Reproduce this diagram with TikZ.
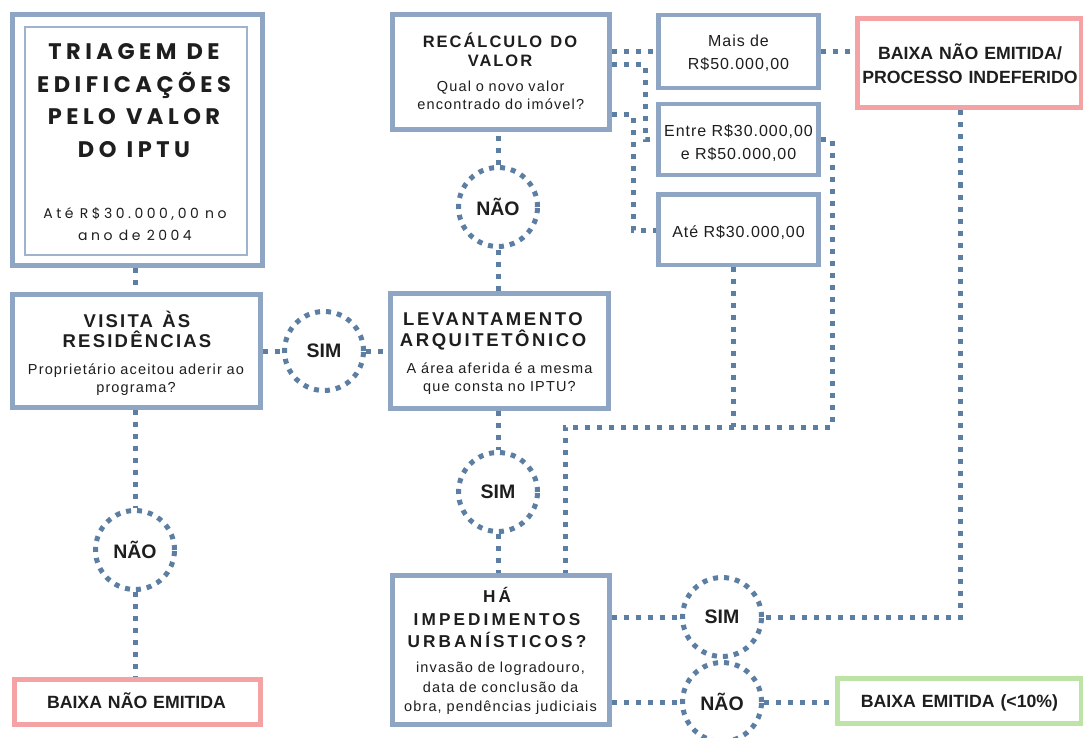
\documentclass[tikz,border=0pt]{standalone}
\usepackage{fontspec}
\setmainfont{Liberation Sans}
\newfontfamily\popfont{Poppins}
\usetikzlibrary{calc}
\definecolor{boxc}{HTML}{8EA6C4}
\definecolor{dotc}{HTML}{5B7EA2}
\definecolor{pinkc}{HTML}{F5A2A4}
\definecolor{greenc}{HTML}{BDE3A6}
\definecolor{txtc}{HTML}{1E1E1E}
\newcommand\wsp{\hspace{0.45em}}
\newcommand\tsp{\hspace{0.5em}}
\begin{document}
\begin{tikzpicture}[x=1pt,y=-1pt,
  box/.style={draw=boxc, line width=5pt, fill=white, rectangle, inner sep=0pt},
  valbox/.style={box, line width=4.5pt, minimum width=160pt},
  pinkbox/.style={box, draw=pinkc},
  greenbox/.style={box, draw=greenc},
  circ/.style={circle, draw=dotc, line width=5pt, dash pattern=on 5pt off 6pt, fill=white,
    minimum size=79pt, inner sep=0pt, text=txtc, font=\fontsize{19.5}{22}\selectfont\bfseries},
  conn/.style={draw=dotc, line width=5pt, dash pattern=on 5pt off 7pt},
  txt/.style={anchor=base, align=center, inner sep=0pt, text=txtc, text width=240pt},
  qst/.style={txt, font=\fontsize{14.5}{#1}\selectfont\addfontfeature{LetterSpace=8}},
  val/.style={txt, font=\fontsize{16}{23.3}\selectfont\addfontfeature{LetterSpace=6}},
  bx/.style={txt, font=\fontsize{17.7}{23.3}\selectfont\bfseries},
]
\useasboundingbox (0,0) rectangle (1083,738);
\fill[white] (0,0) rectangle (1083,738);

% boxes
\node[box, minimum width=249.5pt, minimum height=250pt] (triagem) at (137.25,140) {};
\node[box, draw=boxc!85, line width=1.4pt, minimum width=222pt, minimum height=228pt] (triagemin) at (136,141) {};
\node[box, minimum width=248pt, minimum height=113pt] (visita) at (136,350.5) {};
\node[box, minimum width=217.5pt, minimum height=115pt] (recalc) at (500.75,72.5) {};
\node[box, minimum width=218pt, minimum height=115pt] (lev) at (499.5,351) {};
\node[box, minimum width=217pt, minimum height=149pt] (ha) at (500.5,650) {};
\node[valbox, minimum height=73pt] (mais) at (738.5,51.5) {};
\node[valbox, minimum height=71pt] (entre) at (738.5,139.5) {};
\node[valbox, minimum height=70.5pt] (ate) at (738.5,229.75) {};
\node[pinkbox, minimum width=223.5pt, minimum height=89pt] (indef) at (969.25,63.5) {};
\node[pinkbox, minimum width=246.5pt, minimum height=45pt] (naoemit) at (137.25,702) {};
\node[greenbox, minimum width=243.5pt, minimum height=44.5pt] (emit) at (959.25,700.75) {};

% circles
\node[circ] (sim1) at (324,351) {SIM};
\node[circ] (nao1) at (135,550) {NÃO};
\node[circ] (nao2) at (498,207) {NÃO};
\node[circ] (sim2) at (498,492) {SIM};
\node[circ] (sim3) at (722,617) {SIM};
\node[circ] (nao3) at (722,702) {NÃO};

% junction coordinates
\coordinate (c7a) at (645,65);
\coordinate (c7b) at (645,140);
\coordinate (c8a) at (633,115);
\coordinate (c8b) at (633,230);
\coordinate (c10a) at (832,140);
\coordinate (c10b) at (832,427);
\coordinate (c10c) at (565,427);
\coordinate (j11) at (733,427);
\coordinate (c12) at (960,617);

% connectors
\draw[conn] (triagem.south -| 135,0) -- (visita.north -| 135,0);
\draw[conn] (visita.east |- sim1) -- (sim1.west);
\draw[conn] (sim1.east) -- (lev.west |- sim1);
\draw[conn] (visita.south -| nao1) -- (nao1.north);
\draw[conn] (nao1.south) -- (nao1 |- naoemit.north);
\draw[conn] (lev.north -| nao2) -- (nao2.south);
\draw[conn] (nao2.north) -- (nao2 |- recalc.south);
\draw[conn] (lev.south -| sim2) -- (sim2.north);
\draw[conn] (sim2.south) -- (sim2 |- ha.north);
\draw[conn] (recalc.east |- mais.west) -- (mais.west);
\draw[conn] (recalc.east |- c7a) -- (c7a) -- (c7b) -- (entre.west |- c7b);
\draw[conn] (recalc.east |- c8a) -- (c8a) -- (c8b) -- (ate.west |- c8b);
\draw[conn] (mais.east) -- (indef.west |- mais.east);
\draw[conn] (entre.east |- c10a) -- (c10a) -- (c10b) -- (c10c) -- (c10c |- ha.north);
\draw[conn] (j11 |- ate.south) -- (j11);
\draw[conn] (c12 |- indef.south) -- (c12) -- (sim3.east);
\draw[conn] (ha.east |- sim3) -- (sim3.west);
\draw[conn] (ha.east |- nao3) -- (nao3.west);
\draw[conn] (nao3.east) -- (emit.west |- nao3);

% texts
\node[txt, font=\popfont\fontsize{22.5}{32.5}\selectfont\bfseries\addfontfeature{LetterSpace=20}] (triagemt) at (134,60) {TRIAGEM\wsp DE\\EDIFICAÇÕES\\PELO\wsp VALOR\\DO\wsp IPTU};
\node[txt, font=\popfont\fontsize{14}{22.5}\selectfont\addfontfeature{LetterSpace=25}] (triagems) at (135,218) {Até\wsp R\$30.000,00\wsp no\\ano\wsp de\wsp 2004};

\node[txt, font=\fontsize{18.5}{20}\selectfont\bfseries\addfontfeature{LetterSpace=12}] (visitat) at (137,327) {VISITA\tsp ÀS\\RESIDÊNCIAS};
\node[qst=18] (visitaq) at (136,374) {Proprietário aceitou aderir ao\\programa?};

\node[txt, font=\fontsize{16.5}{19}\selectfont\bfseries\addfontfeature{LetterSpace=12}] (recalct) at (500,48) {RECÁLCULO\tsp DO\\VALOR};
\node[qst=18] (recalcq) at (500.75,92) {Qual o novo valor\\encontrado do imóvel?};

\node[txt, font=\fontsize{18.5}{21.7}\selectfont\bfseries\addfontfeature{LetterSpace=14}] (levt) at (493,325) {LEVANTAMENTO\\ARQUITETÔNICO};
\node[qst=18.5] (levq) at (499.5,373.3) {A área aferida é a mesma\\que consta no IPTU?};

\node[txt, font=\fontsize{17.2}{22.3}\selectfont\bfseries\addfontfeature{LetterSpace=18}] (hat) at (497,602.7) {HÁ\\IMPEDIMENTOS\\URBANÍSTICOS?};
\node[qst=19.7] (haq) at (500.5,672.3) {invasão de logradouro,\\data de conclusão da\\obra, pendências judiciais};

\node[val] (maist) at (738.5,46.7) {Mais de\\R\$50.000,00};
\node[val] (entret) at (738.5,136.7) {Entre R\$30.000,00\\e R\$50.000,00};
\node[val] (atet) at (738.5,237.3) {Até R\$30.000,00};

\node[bx] (indeft) at (970,60) {BAIXA NÃO EMITIDA/\\PROCESSO INDEFERIDO};
\node[bx] (naoemitt) at (136.5,708.7) {BAIXA NÃO EMITIDA};
\node[bx] (emitt) at (959.5,707) {BAIXA EMITIDA (<10\%)};
\end{tikzpicture}
\end{document}
